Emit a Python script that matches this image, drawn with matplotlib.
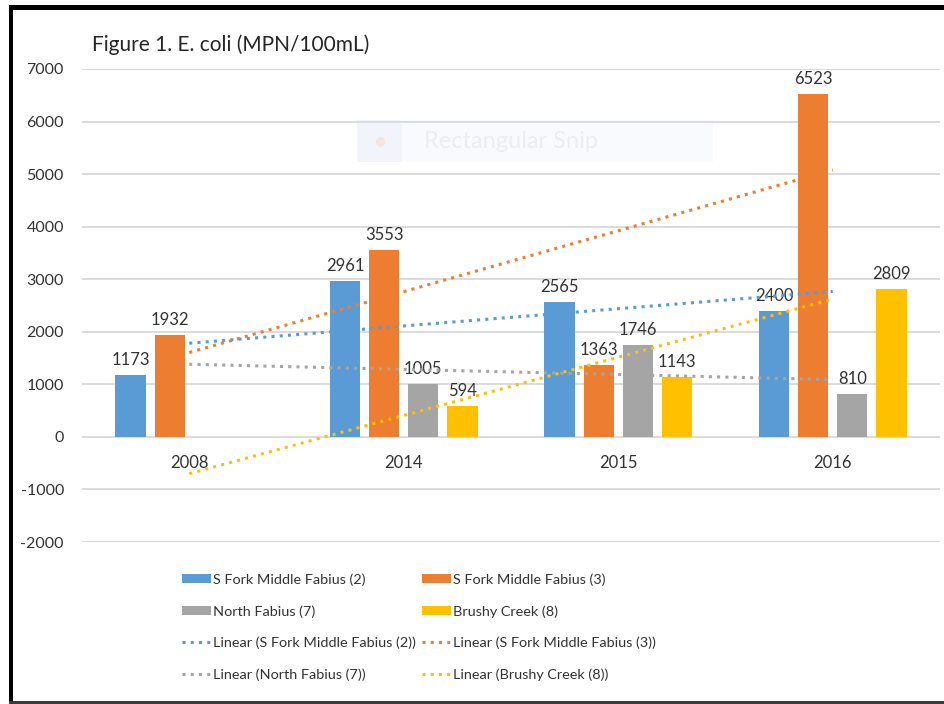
import numpy as np
import matplotlib
matplotlib.use("Agg")
import matplotlib.pyplot as plt
from matplotlib.patches import Rectangle, Patch
from matplotlib.lines import Line2D

# ---------------- data ----------------
categories = ['2008', '2014', '2015', '2016']
series_names = ['S Fork Middle Fabius (2)', 'S Fork Middle Fabius (3)',
                'North Fabius (7)', 'Brushy Creek (8)']
sfm2 = [1173, 2961, 2565, 2400]
sfm3 = [1932, 3553, 1363, 6523]
north7 = [np.nan, 1005, 1746, 810]
brushy8 = [np.nan, 594, 1143, 2809]
yticks = [-2000, -1000, 0, 1000, 2000, 3000, 4000, 5000, 6000, 7000]
title = 'Figure 1. E. coli (MPN/100mL)'
watermark = 'Rectangular Snip'

series = [sfm2, sfm3, north7, brushy8]
colors = ['#5B9BD5', '#ED7D31', '#A5A5A5', '#FFC000']

plt.rcParams['font.family'] = ['Lato', 'DejaVu Sans']
FS = 11.5
TXT = '#333333'

W, H = 945, 704
fig = plt.figure(figsize=(W / 100, H / 100), dpi=100)


def fx(px):
    return px / W


def fy(py):
    return 1 - py / H


ax = fig.add_axes([fx(82), fy(542), fx(940) - fx(82), fy(69) - fy(542)])
ax.patch.set_visible(False)

x = np.arange(len(categories))
step = 0.182
width = 0.142
dot_ls = (0, (1.0, 1.7))

for i, (vals, col) in enumerate(zip(series, colors)):
    v = np.array(vals, dtype=float)
    pos = x + (i - 1.5) * step
    ax.bar(pos, np.nan_to_num(v), width=width, color=col, zorder=2,
           edgecolor='none')
    for p, val in zip(pos, v):
        if np.isnan(val):
            continue
        ax.annotate(f'{int(val)}', (p, val), xytext=(0, 5),
                    textcoords='offset points', ha='center', va='bottom',
                    fontsize=12, color=TXT, zorder=3)
    # linear trendline (fit on available points, drawn across all categories)
    m = ~np.isnan(v)
    coef = np.polyfit(x[m] + 1, v[m], 1)
    ax.plot(x, np.polyval(coef, x + 1), color=col, lw=2.2, ls=dot_ls,
            dash_capstyle='butt', zorder=4)

ax.set_xlim(-0.5, len(categories) - 0.5)
ax.set_ylim(-2000, 7000)
ax.set_yticks(yticks)
ax.set_yticklabels([str(t) for t in yticks], fontsize=FS, color=TXT)
ax.tick_params(axis='y', length=0, pad=13)
ax.set_xticks([])
ax.grid(axis='y', color='#d9d9d9', lw=1.3, zorder=0)
ax.set_axisbelow(True)
for s in ax.spines.values():
    s.set_visible(False)

for xi, c in zip(x, categories):
    ax.annotate(c, (xi, 0), xytext=(0, -19), textcoords='offset points',
                ha='center', va='center', fontsize=12, color=TXT)

fig.text(fx(92), fy(45), title, fontsize=15, color='#262626',
         ha='left', va='center')

# faint screenshot watermark
fig.patches.append(Rectangle((fx(357), fy(162)), fx(713) - fx(357), fy(120) - fy(162),
                             transform=fig.transFigure, facecolor='#f8fafd',
                             edgecolor='none', zorder=-2))
fig.patches.append(Rectangle((fx(357), fy(162)), fx(402) - fx(357), fy(120) - fy(162),
                             transform=fig.transFigure, facecolor='#f1f5fb',
                             edgecolor='none', zorder=-1.5))
fig.text(fx(380), fy(141), '\u25cf', fontsize=9, color='#f6e6e0',
         ha='center', va='center', zorder=-1, family='DejaVu Sans')
fig.text(fx(424), fy(141), watermark, fontsize=17, color='#ebedf1',
         ha='left', va='center', zorder=-1)

# legend (two columns, row-major order)
bar_handles = [Patch(facecolor=c, edgecolor='none') for c in colors]
line_handles = [Line2D([0], [0], color=c, lw=2.2, ls=dot_ls) for c in colors]
trend_names = [f'Linear ({n})' for n in series_names]

col1_h = [bar_handles[0], bar_handles[2], line_handles[0], line_handles[2]]
col1_l = [series_names[0], series_names[2], trend_names[0], trend_names[2]]
col2_h = [bar_handles[1], bar_handles[3], line_handles[1], line_handles[3]]
col2_l = [series_names[1], series_names[3], trend_names[1], trend_names[3]]

common = dict(loc='upper left', frameon=False, fontsize=10.4, borderpad=0,
              handlelength=2.0, handleheight=0.6, handletextpad=0.12,
              labelspacing=1.33, labelcolor=TXT)
fig.legend(col1_h, col1_l, bbox_to_anchor=(fx(175), fy(566)), **common)
fig.legend(col2_h, col2_l, bbox_to_anchor=(fx(415), fy(566)), **common)

# screenshot frame
fig.patches.append(Rectangle((fx(9), 0), fx(13) - fx(9), fy(5),
                             transform=fig.transFigure, facecolor='black',
                             edgecolor='none', zorder=10))
fig.patches.append(Rectangle((fx(9), fy(10)), 1 - fx(9), fy(5) - fy(10),
                             transform=fig.transFigure, facecolor='black',
                             edgecolor='none', zorder=10))
fig.patches.append(Rectangle((fx(9), 0), 1 - fx(9), fy(701),
                             transform=fig.transFigure, facecolor='#3a3a3a',
                             edgecolor='none', zorder=10))

fig.savefig('out.png', dpi=100)
